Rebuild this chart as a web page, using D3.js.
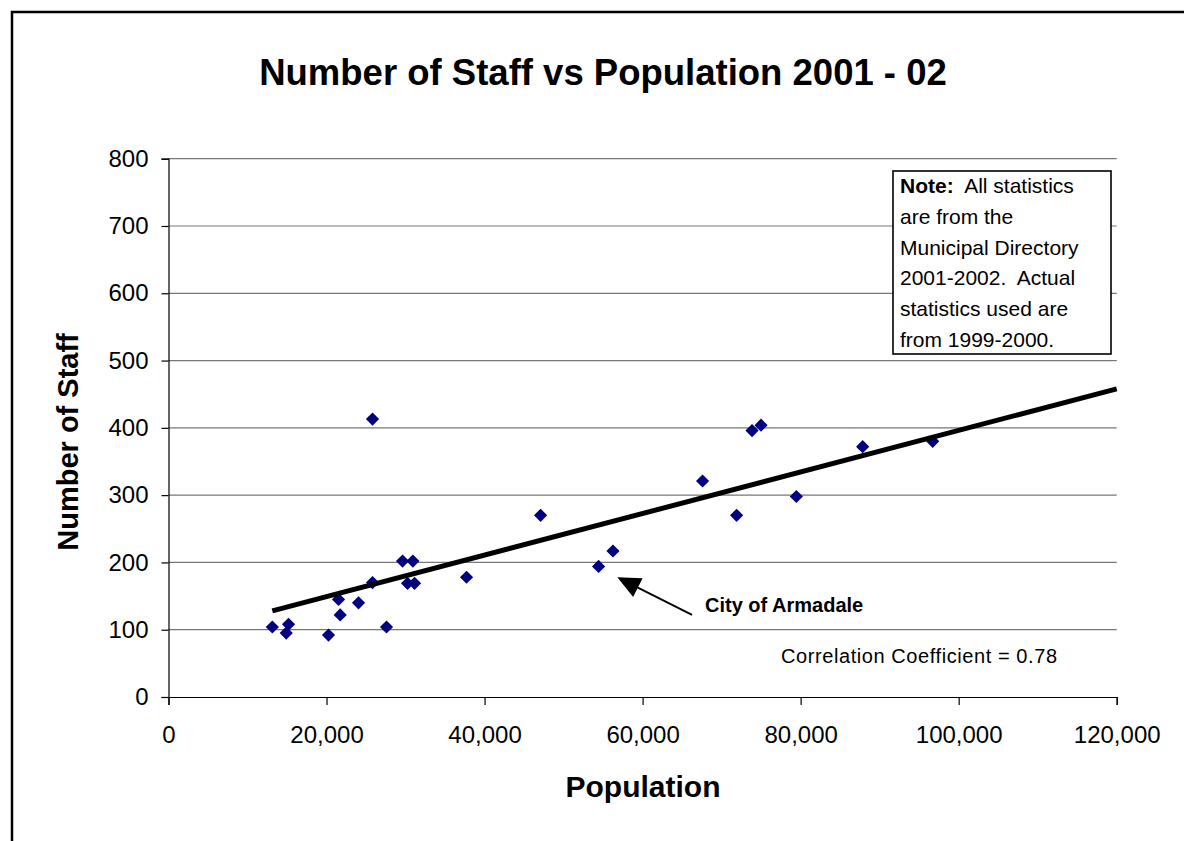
<!DOCTYPE html>
<html>
<head>
<meta charset="utf-8">
<script src="https://cdn.jsdelivr.net/npm/d3@7"></script>
<style>
  html, body { margin: 0; padding: 0; background: #fff; }
  svg { display: block; font-family: "Liberation Sans", Arial, sans-serif; }
</style>
</head>
<body>
<svg id="chart" width="1184" height="841"></svg>
<script>
// Population and staff numbers for each council, 2001-02 directory
const population = [13140, 14900, 15190, 20250, 21520, 21730, 24050, 25820, 25820, 27590,
                    29620, 30930, 30250, 31140, 37720, 47090, 54430, 56250, 67590, 71900,
                    73850, 74990, 79460, 87850, 96710];
const staff      = [104, 95, 108, 92, 145, 122, 140, 413, 170, 104,
                    202, 202, 169, 169, 178, 270, 194, 217, 321, 270,
                    396, 404, 298, 372, 380];

// Linear trend line endpoints (population, staff)
const trendPopulation = [13140, 120000];
const trendStaff      = [128, 458];

// Axis ticks
const xTicks = [0, 20000, 40000, 60000, 80000, 100000, 120000];
const yTicks = [0, 100, 200, 300, 400, 500, 600, 700, 800];

// Annotation arrow: tail and tip in data units
const arrowTail = [66260, 122];
const arrowTip  = [56800, 178];

const noteLines = [
  [{t: "Note:", b: true}, {t: "  All statistics", b: false}],
  [{t: "are from the", b: false}],
  [{t: "Municipal Directory", b: false}],
  [{t: "2001-2002.  Actual", b: false}],
  [{t: "statistics used are", b: false}],
  [{t: "from 1999-2000.", b: false}]
];

const svg = d3.select("#chart");

const x = d3.scaleLinear().domain([0, 120000]).range([168.5, 1116.7]);
const y = d3.scaleLinear().domain([0, 800]).range([697, 158.7]);

// Outer chart frame (continues past the right and bottom edges)
svg.append("path")
  .attr("d", "M12,860 V12 H1200")
  .attr("fill", "none").attr("stroke", "#000").attr("stroke-width", 2.5);

// Title
svg.append("text")
  .attr("x", 603).attr("y", 85)
  .attr("text-anchor", "middle")
  .attr("font-size", 36.5).attr("font-weight", "bold")
  .text("Number of Staff vs Population 2001 - 02");

// Horizontal gridlines
svg.append("g").selectAll("line")
  .data(yTicks.filter(d => d > 0))
  .join("line")
  .attr("x1", x(0)).attr("x2", x(120000))
  .attr("y1", d => y(d)).attr("y2", d => y(d))
  .attr("stroke", "#777").attr("stroke-width", 1.2);

// Y axis
const yAxis = svg.append("g")
  .attr("transform", `translate(${x(0)},0)`)
  .call(d3.axisLeft(y).tickValues(yTicks).tickSize(7).tickPadding(13).tickFormat(d3.format("d")));
yAxis.select(".domain").attr("stroke", "#000").attr("stroke-width", 1.2);
yAxis.selectAll(".tick line").attr("stroke", "#000").attr("stroke-width", 1.2);
yAxis.selectAll("text").attr("font-size", 24).attr("font-family", "Liberation Sans, Arial, sans-serif").attr("fill", "#000");

// X axis
const xAxis = svg.append("g")
  .attr("transform", `translate(0,${y(0)})`)
  .call(d3.axisBottom(x).tickValues(xTicks).tickSize(8).tickPadding(21).tickFormat(d3.format(",")));
xAxis.select(".domain").attr("stroke", "#000").attr("stroke-width", 1.2);
xAxis.selectAll(".tick line").attr("stroke", "#000").attr("stroke-width", 1.2);
xAxis.selectAll("text").attr("font-size", 24).attr("font-family", "Liberation Sans, Arial, sans-serif").attr("fill", "#000");

// Axis titles
svg.append("text")
  .attr("x", 643).attr("y", 797)
  .attr("text-anchor", "middle")
  .attr("font-size", 30).attr("font-weight", "bold")
  .text("Population");

svg.append("text")
  .attr("transform", "translate(78,442) rotate(-90)")
  .attr("text-anchor", "middle")
  .attr("font-size", 29).attr("font-weight", "bold")
  .text("Number of Staff");

// Data points as navy diamonds
const h = 6.6;
svg.append("g").selectAll("path")
  .data(population.map((p, i) => [p, staff[i]]))
  .join("path")
  .attr("transform", d => `translate(${x(d[0])},${y(d[1])})`)
  .attr("d", `M0,${-h}L${h},0L0,${h}L${-h},0Z`)
  .attr("fill", "#000080");

// Trend line
svg.append("line")
  .attr("x1", x(trendPopulation[0])).attr("y1", y(trendStaff[0]))
  .attr("x2", x(trendPopulation[1])).attr("y2", y(trendStaff[1]))
  .attr("stroke", "#000").attr("stroke-width", 5);

// Note box
const note = svg.append("g");
note.append("rect")
  .attr("x", 893).attr("y", 171).attr("width", 218).attr("height", 183)
  .attr("fill", "#fff").attr("stroke", "#000").attr("stroke-width", 1.6);
const noteText = note.append("text").attr("font-size", 21).attr("xml:space", "preserve");
noteLines.forEach((line, i) => {
  line.forEach((part, j) => {
    noteText.append("tspan")
      .attr("x", j === 0 ? 900 : null)
      .attr("y", j === 0 ? 193 + i * 30.8 : null)
      .attr("font-weight", part.b ? "bold" : "normal")
      .text(part.t);
  });
});

// Arrow pointing at the City of Armadale
const tx = x(arrowTail[0]), ty = y(arrowTail[1]);
const px = x(arrowTip[0]), py = y(arrowTip[1]);
const len = Math.hypot(tx - px, ty - py);
const ux = (tx - px) / len, uy = (ty - py) / len;
const headLen = 23, headHalf = 10.5;
const bx = px + ux * headLen, by = py + uy * headLen;
svg.append("line")
  .attr("x1", tx).attr("y1", ty).attr("x2", bx).attr("y2", by)
  .attr("stroke", "#000").attr("stroke-width", 1.8);
svg.append("path")
  .attr("d", `M${px},${py}L${bx - uy * headHalf},${by + ux * headHalf}L${bx + uy * headHalf},${by - ux * headHalf}Z`)
  .attr("fill", "#000");

svg.append("text")
  .attr("x", 705).attr("y", 612)
  .attr("font-size", 20).attr("font-weight", "bold")
  .text("City of Armadale");

svg.append("text")
  .attr("x", 1057).attr("y", 663)
  .attr("text-anchor", "end")
  .attr("font-size", 20)
  .attr("textLength", 276)
  .attr("lengthAdjust", "spacing")
  .text("Correlation Coefficient = 0.78");
</script>
</body>
</html>
